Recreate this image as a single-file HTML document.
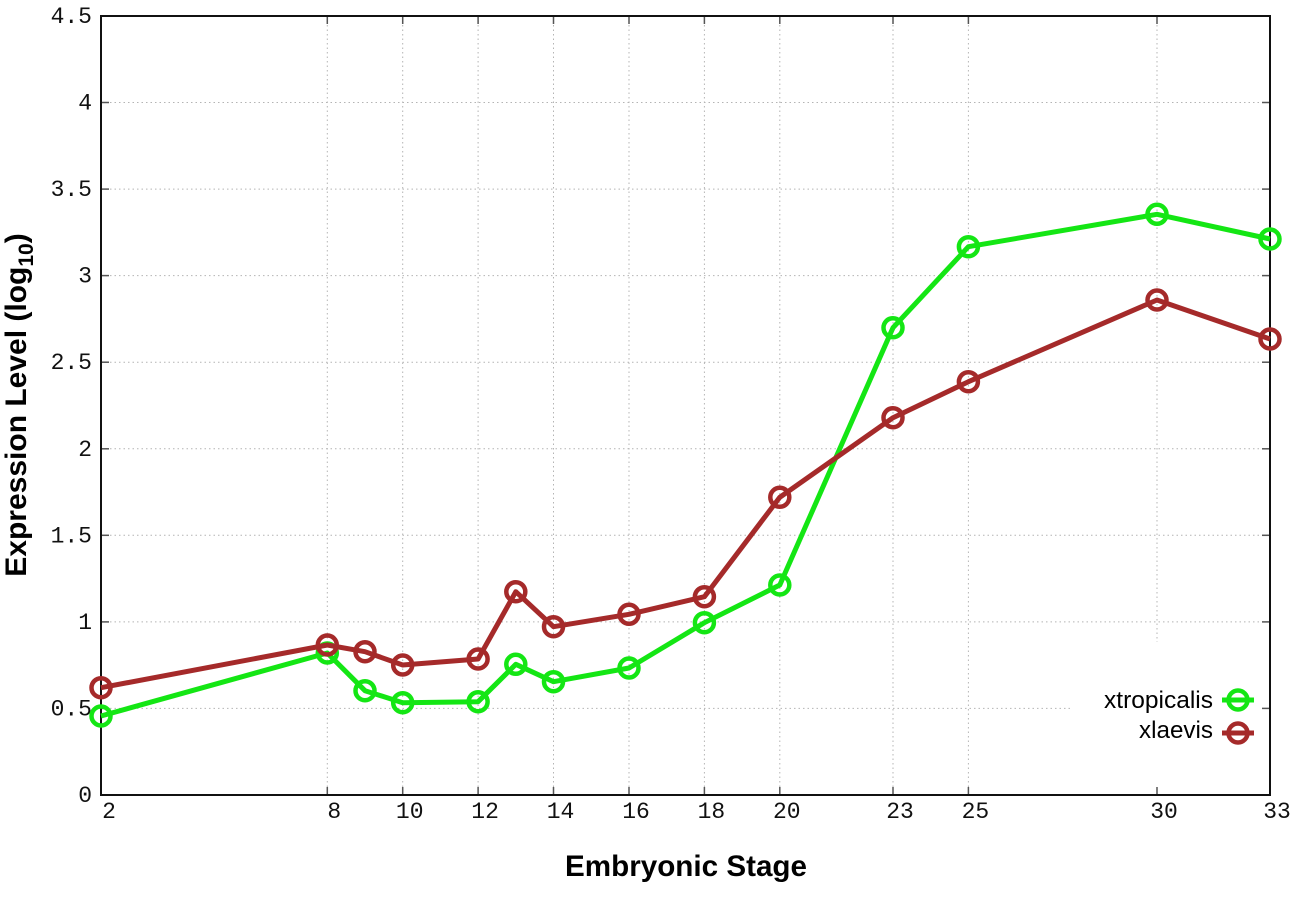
<!DOCTYPE html>
<html>
<head>
<meta charset="utf-8">
<style>
html,body{margin:0;padding:0;background:#fff;}
svg{display:block;}
</style>
</head>
<body>
<svg width="1296" height="907" viewBox="0 0 1296 907" xmlns="http://www.w3.org/2000/svg">
<rect width="1296" height="907" fill="#fff"/>
<!-- grid horizontal -->
<g stroke="#b4b4b4" stroke-width="1" stroke-dasharray="1.5 3" fill="none">
<line x1="101" y1="708.4" x2="1270" y2="708.4"/>
<line x1="101" y1="621.9" x2="1270" y2="621.9"/>
<line x1="101" y1="535.3" x2="1270" y2="535.3"/>
<line x1="101" y1="448.8" x2="1270" y2="448.8"/>
<line x1="101" y1="362.2" x2="1270" y2="362.2"/>
<line x1="101" y1="275.6" x2="1270" y2="275.6"/>
<line x1="101" y1="189.1" x2="1270" y2="189.1"/>
<line x1="101" y1="102.5" x2="1270" y2="102.5"/>
<!-- vertical -->
<line x1="327.3" y1="16" x2="327.3" y2="795"/>
<line x1="402.7" y1="16" x2="402.7" y2="795"/>
<line x1="478.1" y1="16" x2="478.1" y2="795"/>
<line x1="553.5" y1="16" x2="553.5" y2="795"/>
<line x1="629" y1="16" x2="629" y2="795"/>
<line x1="704.4" y1="16" x2="704.4" y2="795"/>
<line x1="779.8" y1="16" x2="779.8" y2="795"/>
<line x1="893" y1="16" x2="893" y2="795"/>
<line x1="968.4" y1="16" x2="968.4" y2="795"/>
<line x1="1157" y1="16" x2="1157" y2="795"/>
</g>
<!-- legend box blank -->
<rect x="1071" y="642" width="198" height="152" fill="#fff"/>
<!-- ticks -->
<g stroke="#555" stroke-width="1.5">
<line x1="101" y1="708.4" x2="109" y2="708.4"/><line x1="1262" y1="708.4" x2="1270" y2="708.4"/>
<line x1="101" y1="621.9" x2="109" y2="621.9"/><line x1="1262" y1="621.9" x2="1270" y2="621.9"/>
<line x1="101" y1="535.3" x2="109" y2="535.3"/><line x1="1262" y1="535.3" x2="1270" y2="535.3"/>
<line x1="101" y1="448.8" x2="109" y2="448.8"/><line x1="1262" y1="448.8" x2="1270" y2="448.8"/>
<line x1="101" y1="362.2" x2="109" y2="362.2"/><line x1="1262" y1="362.2" x2="1270" y2="362.2"/>
<line x1="101" y1="275.6" x2="109" y2="275.6"/><line x1="1262" y1="275.6" x2="1270" y2="275.6"/>
<line x1="101" y1="189.1" x2="109" y2="189.1"/><line x1="1262" y1="189.1" x2="1270" y2="189.1"/>
<line x1="101" y1="102.5" x2="109" y2="102.5"/><line x1="1262" y1="102.5" x2="1270" y2="102.5"/>
<line x1="327.3" y1="795" x2="327.3" y2="787"/><line x1="327.3" y1="16" x2="327.3" y2="24"/>
<line x1="402.7" y1="795" x2="402.7" y2="787"/><line x1="402.7" y1="16" x2="402.7" y2="24"/>
<line x1="478.1" y1="795" x2="478.1" y2="787"/><line x1="478.1" y1="16" x2="478.1" y2="24"/>
<line x1="553.5" y1="795" x2="553.5" y2="787"/><line x1="553.5" y1="16" x2="553.5" y2="24"/>
<line x1="629" y1="795" x2="629" y2="787"/><line x1="629" y1="16" x2="629" y2="24"/>
<line x1="704.4" y1="795" x2="704.4" y2="787"/><line x1="704.4" y1="16" x2="704.4" y2="24"/>
<line x1="779.8" y1="795" x2="779.8" y2="787"/><line x1="779.8" y1="16" x2="779.8" y2="24"/>
<line x1="893" y1="795" x2="893" y2="787"/><line x1="893" y1="16" x2="893" y2="24"/>
<line x1="968.4" y1="795" x2="968.4" y2="787"/><line x1="968.4" y1="16" x2="968.4" y2="24"/>
<line x1="1157" y1="795" x2="1157" y2="787"/><line x1="1157" y1="16" x2="1157" y2="24"/>
</g>
<!-- border -->
<rect x="101" y="16" width="1169" height="779" fill="none" stroke="#111" stroke-width="2"/>
<!-- y tick labels -->
<g font-family="Liberation Mono, monospace" font-size="23" fill="#111" text-anchor="end">
<text x="92" y="802">0</text>
<text x="92" y="715.4">0.5</text>
<text x="92" y="628.9">1</text>
<text x="92" y="542.3">1.5</text>
<text x="92" y="455.8">2</text>
<text x="92" y="369.2">2.5</text>
<text x="92" y="282.6">3</text>
<text x="92" y="196.1">3.5</text>
<text x="92" y="109.5">4</text>
<text x="92" y="23">4.5</text>
</g>
<!-- x tick labels -->
<g font-family="Liberation Mono, monospace" font-size="23" fill="#111" text-anchor="middle">
<text x="109" y="818">2</text>
<text x="334.3" y="818">8</text>
<text x="409.7" y="818">10</text>
<text x="485.1" y="818">12</text>
<text x="560.5" y="818">14</text>
<text x="636" y="818">16</text>
<text x="711.4" y="818">18</text>
<text x="786.8" y="818">20</text>
<text x="900" y="818">23</text>
<text x="975.4" y="818">25</text>
<text x="1164" y="818">30</text>
<text x="1277" y="818">33</text>
</g>
<!-- axis titles -->
<text x="686" y="876" font-family="Liberation Sans, Arial, sans-serif" font-weight="bold" font-size="30" fill="#000" text-anchor="middle" textLength="242" lengthAdjust="spacingAndGlyphs">Embryonic Stage</text>
<text transform="translate(26,405) rotate(-90)" x="0" y="0" font-family="Liberation Sans, Arial, sans-serif" font-weight="bold" font-size="30" fill="#000" text-anchor="middle">Expression Level (log<tspan font-size="21" dy="7">10</tspan><tspan dy="-7">)</tspan></text>
<!-- series -->
<g fill="none" stroke="#14e614" stroke-width="5" stroke-linejoin="round">
<polyline points="101,716 327.3,653 365,690.7 402.7,702.7 478.1,701.7 515.8,664.3 553.5,681.7 629,668 704.4,622.7 779.8,585 893,327.7 968.4,246.7 1157,214.3 1270,239"/>
</g>
<g fill="none" stroke="#14e614" stroke-width="4.5">
<circle cx="101" cy="716" r="9.5"/><circle cx="327.3" cy="653" r="9.5"/><circle cx="365" cy="690.7" r="9.5"/><circle cx="402.7" cy="702.7" r="9.5"/><circle cx="478.1" cy="701.7" r="9.5"/><circle cx="515.8" cy="664.3" r="9.5"/><circle cx="553.5" cy="681.7" r="9.5"/><circle cx="629" cy="668" r="9.5"/><circle cx="704.4" cy="622.7" r="9.5"/><circle cx="779.8" cy="585" r="9.5"/><circle cx="893" cy="327.7" r="9.5"/><circle cx="968.4" cy="246.7" r="9.5"/><circle cx="1157" cy="214.3" r="9.5"/><circle cx="1270" cy="239" r="9.5"/>
</g>
<g fill="none" stroke="#a52a2a" stroke-width="5" stroke-linejoin="round">
<polyline points="101,687.7 327.3,645 365,651.7 402.7,665 478.1,659 515.8,591.7 553.5,626.7 629,614.3 704.4,596.7 779.8,497.3 893,417.7 968.4,381.7 1157,300 1270,339"/>
</g>
<g fill="none" stroke="#a52a2a" stroke-width="4.5">
<circle cx="101" cy="687.7" r="9.5"/><circle cx="327.3" cy="645" r="9.5"/><circle cx="365" cy="651.7" r="9.5"/><circle cx="402.7" cy="665" r="9.5"/><circle cx="478.1" cy="659" r="9.5"/><circle cx="515.8" cy="591.7" r="9.5"/><circle cx="553.5" cy="626.7" r="9.5"/><circle cx="629" cy="614.3" r="9.5"/><circle cx="704.4" cy="596.7" r="9.5"/><circle cx="779.8" cy="497.3" r="9.5"/><circle cx="893" cy="417.7" r="9.5"/><circle cx="968.4" cy="381.7" r="9.5"/><circle cx="1157" cy="300" r="9.5"/><circle cx="1270" cy="339" r="9.5"/>
</g>
<!-- legend -->
<g font-family="Liberation Sans, Arial, sans-serif" font-size="24" fill="#000" text-anchor="end">
<text x="1213" y="708" textLength="109" lengthAdjust="spacingAndGlyphs">xtropicalis</text>
<text x="1213" y="738" textLength="74" lengthAdjust="spacingAndGlyphs">xlaevis</text>
</g>
<line x1="1222" y1="700" x2="1254" y2="700" stroke="#14e614" stroke-width="5"/>
<circle cx="1238" cy="700" r="9.5" fill="none" stroke="#14e614" stroke-width="4.5"/>
<line x1="1222" y1="733" x2="1254" y2="733" stroke="#a52a2a" stroke-width="5"/>
<circle cx="1238" cy="733" r="9.5" fill="none" stroke="#a52a2a" stroke-width="4.5"/>
</svg>
</body>
</html>
